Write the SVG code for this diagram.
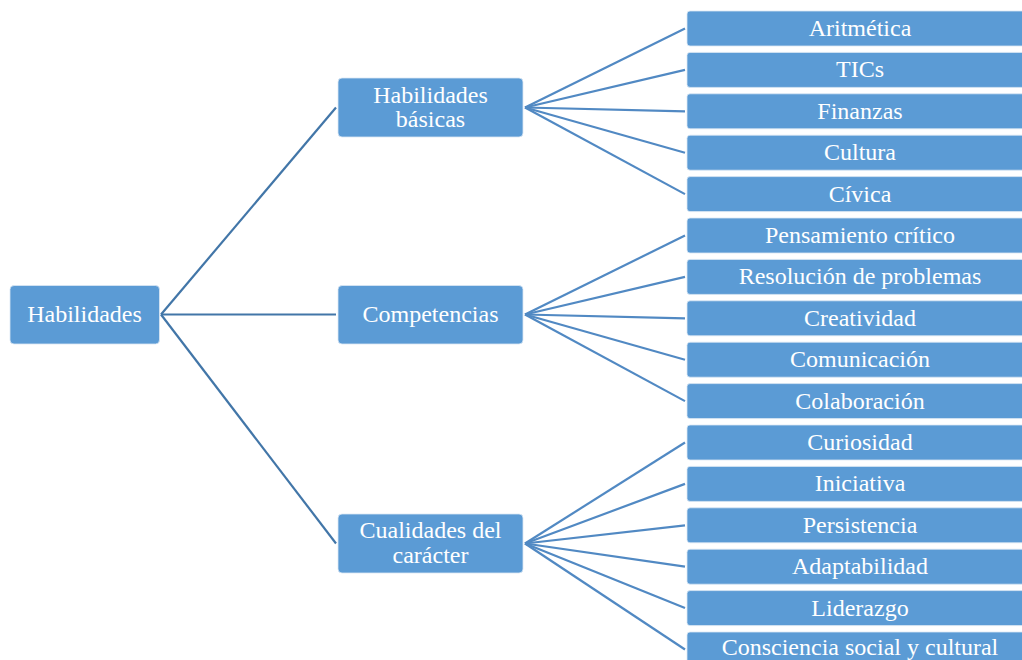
<svg xmlns="http://www.w3.org/2000/svg" width="1022" height="660" viewBox="0 0 1022 660">
<style>
.box{fill:#5B9BD5;stroke:#dbe7f4;stroke-width:0.8}
.t{font-family:'Liberation Serif',Tinos,'Times New Roman','DejaVu Serif',serif;font-size:24px;fill:#ffffff;text-anchor:middle}
.c1{stroke:#4276a8;stroke-width:2.2;fill:none}
.c2{stroke:#5189c3;stroke-width:2.2;fill:none}
</style>
<rect width="1022" height="660" fill="#ffffff"/>
<g id="connectors">
<line class="c1" x1="161" y1="314.5" x2="336" y2="107.5"/>
<line class="c1" x1="161" y1="314.5" x2="336" y2="314.5"/>
<line class="c1" x1="161" y1="314.5" x2="336" y2="543.5"/>
<line class="c2" x1="525" y1="107.5" x2="685" y2="28.5"/>
<line class="c2" x1="525" y1="107.5" x2="685" y2="69.9"/>
<line class="c2" x1="525" y1="107.5" x2="685" y2="111.3"/>
<line class="c2" x1="525" y1="107.5" x2="685" y2="152.7"/>
<line class="c2" x1="525" y1="107.5" x2="685" y2="194.1"/>
<line class="c2" x1="525" y1="314.5" x2="685" y2="235.5"/>
<line class="c2" x1="525" y1="314.5" x2="685" y2="276.9"/>
<line class="c2" x1="525" y1="314.5" x2="685" y2="318.3"/>
<line class="c2" x1="525" y1="314.5" x2="685" y2="359.7"/>
<line class="c2" x1="525" y1="314.5" x2="685" y2="401.1"/>
<line class="c2" x1="525" y1="543.5" x2="685" y2="442.5"/>
<line class="c2" x1="525" y1="543.5" x2="685" y2="483.9"/>
<line class="c2" x1="525" y1="543.5" x2="685" y2="525.3"/>
<line class="c2" x1="525" y1="543.5" x2="685" y2="566.7"/>
<line class="c2" x1="525" y1="543.5" x2="685" y2="608.1"/>
<line class="c2" x1="525" y1="543.5" x2="685" y2="649.5"/>
</g>
<g id="root"><rect class="box" x="10" y="285.5" width="149.5" height="58.5" rx="4"/><text class="t" x="84.5" y="322">Habilidades</text></g>
<g id="basicas"><rect class="box" x="338" y="78" width="185" height="59" rx="4"/><text class="t" x="430.5" y="102.5">Habilidades</text><text class="t" x="430.5" y="126.5">básicas</text></g>
<g id="competencias"><rect class="box" x="338" y="285.5" width="185" height="58.5" rx="4"/><text class="t" x="430.5" y="322">Competencias</text></g>
<g id="cualidades"><rect class="box" x="338" y="514" width="185" height="59" rx="4"/><text class="t" x="430.5" y="537.5">Cualidades del</text><text class="t" x="430.5" y="562.5">carácter</text></g>
<g id="aritmetica"><rect class="box" x="687" y="11" width="346" height="35" rx="3"/><text class="t" x="860" y="36">Aritmética</text></g>
<g id="tics"><rect class="box" x="687" y="52.4" width="346" height="35" rx="3"/><text class="t" x="860" y="77.4">TICs</text></g>
<g id="finanzas"><rect class="box" x="687" y="93.8" width="346" height="35" rx="3"/><text class="t" x="860" y="118.8">Finanzas</text></g>
<g id="cultura"><rect class="box" x="687" y="135.2" width="346" height="35" rx="3"/><text class="t" x="860" y="160.2">Cultura</text></g>
<g id="civica"><rect class="box" x="687" y="176.6" width="346" height="35" rx="3"/><text class="t" x="860" y="201.6">Cívica</text></g>
<g id="pensamiento"><rect class="box" x="687" y="218" width="346" height="35" rx="3"/><text class="t" x="860" y="243">Pensamiento crítico</text></g>
<g id="resolucion"><rect class="box" x="687" y="259.4" width="346" height="35" rx="3"/><text class="t" x="860" y="284.4">Resolución de problemas</text></g>
<g id="creatividad"><rect class="box" x="687" y="300.8" width="346" height="35" rx="3"/><text class="t" x="860" y="325.8">Creatividad</text></g>
<g id="comunicacion"><rect class="box" x="687" y="342.2" width="346" height="35" rx="3"/><text class="t" x="860" y="367.2">Comunicación</text></g>
<g id="colaboracion"><rect class="box" x="687" y="383.6" width="346" height="35" rx="3"/><text class="t" x="860" y="408.6">Colaboración</text></g>
<g id="curiosidad"><rect class="box" x="687" y="425" width="346" height="35" rx="3"/><text class="t" x="860" y="450">Curiosidad</text></g>
<g id="iniciativa"><rect class="box" x="687" y="466.4" width="346" height="35" rx="3"/><text class="t" x="860" y="491.4">Iniciativa</text></g>
<g id="persistencia"><rect class="box" x="687" y="507.8" width="346" height="35" rx="3"/><text class="t" x="860" y="532.8">Persistencia</text></g>
<g id="adaptabilidad"><rect class="box" x="687" y="549.2" width="346" height="35" rx="3"/><text class="t" x="860" y="574.2">Adaptabilidad</text></g>
<g id="liderazgo"><rect class="box" x="687" y="590.6" width="346" height="35" rx="3"/><text class="t" x="860" y="615.6">Liderazgo</text></g>
<g id="consciencia"><rect class="box" x="687" y="632" width="346" height="35" rx="3"/><text class="t" x="860" y="655">Consciencia social y cultural</text></g>
</svg>
